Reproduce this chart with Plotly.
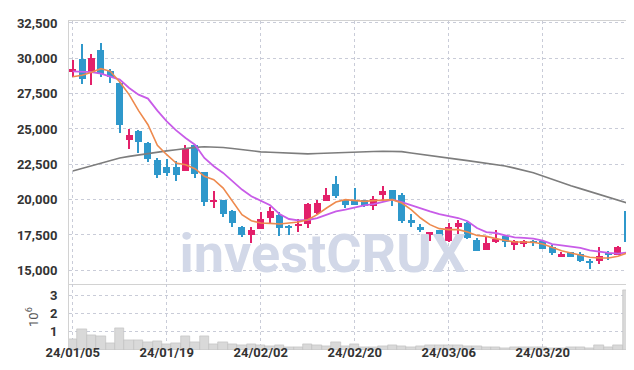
import plotly.graph_objects as go

# ---------------- data ----------------
dates = ["2024-01-05", "2024-01-08", "2024-01-09", "2024-01-10", "2024-01-11", "2024-01-12",
         "2024-01-15", "2024-01-16", "2024-01-17", "2024-01-18", "2024-01-19", "2024-01-22",
         "2024-01-23", "2024-01-24", "2024-01-25", "2024-01-26", "2024-01-29", "2024-01-30",
         "2024-01-31", "2024-02-01", "2024-02-02", "2024-02-05", "2024-02-06", "2024-02-07",
         "2024-02-08", "2024-02-13", "2024-02-14", "2024-02-15", "2024-02-16", "2024-02-19",
         "2024-02-20", "2024-02-21", "2024-02-22", "2024-02-23", "2024-02-26", "2024-02-27",
         "2024-02-28", "2024-02-29", "2024-03-04", "2024-03-05", "2024-03-06", "2024-03-07",
         "2024-03-08", "2024-03-11", "2024-03-12", "2024-03-13", "2024-03-14", "2024-03-15",
         "2024-03-18", "2024-03-19", "2024-03-20", "2024-03-21", "2024-03-22", "2024-03-25",
         "2024-03-26", "2024-03-27", "2024-03-28", "2024-03-29", "2024-04-01", "2024-04-02"]

opens = [29050, 29950, 29050, 30600, 29100, 28250, 24250, 24850, 24000, 22800,
         22300, 22300, 22050, 23850, 21950, 19900, 19950, 19200, 18100, 17500,
         17950, 18700, 18900, 18150, 18150, 18280, 19050, 19900, 21100, 19950,
         19950, 20000, 19530, 20350, 20700, 20300, 18580, 18050, 17480, 17830,
         17050, 18040, 18350, 17170, 16460, 16980, 17450, 16820, 16890, 17100,
         17050, 16650, 16010, 16300, 16150, 15680, 15640, 16250, 16110, 19220]
highs = [29850, 31000, 30300, 31100, 29220, 28300, 25000, 24950, 24100, 22950,
         22900, 22750, 23900, 23900, 21950, 20600, 19950, 19300, 18150, 18100,
         19150, 19450, 19150, 18200, 18600, 19750, 20000, 20800, 21700, 20050,
         20850, 20000, 20250, 20950, 20700, 20450, 18950, 18280, 17700, 17830,
         18350, 18580, 18420, 17290, 17400, 17880, 17450, 17170, 17170, 17170,
         17170, 16770, 16300, 16300, 16300, 15820, 16630, 16390, 16750, 19450]
lows = [28700, 28200, 28100, 28650, 28250, 24750, 23600, 23300, 22650, 21500,
        21700, 21300, 22000, 21550, 19550, 19400, 18800, 18100, 17330, 16950,
        17900, 18250, 17400, 17500, 17700, 18000, 19000, 19880, 20100, 19400,
        19600, 19450, 19300, 20000, 19530, 18350, 18050, 17700, 17100, 17170,
        17000, 17400, 17240, 16340, 16450, 16930, 16630, 16460, 16630, 16700,
        16530, 16060, 15920, 15940, 15590, 15100, 15450, 15750, 16060, 16980]
closes = [29250, 28550, 30000, 28900, 28650, 25300, 24550, 24100, 22900, 21750,
          21900, 21750, 23600, 21850, 19800, 20000, 19000, 18350, 17480, 17850,
          18650, 19200, 18000, 18000, 18250, 19700, 19750, 20300, 20250, 19600,
          19650, 19530, 20050, 20580, 20000, 18500, 18350, 17880, 17680, 17290,
          18030, 18320, 17290, 16400, 16930, 17240, 16980, 17050, 17050, 16910,
          16530, 16230, 16150, 15950, 15640, 15570, 15990, 16110, 16650, 16980]

volume_millions = [0.59, 1.14, 0.81, 0.74, 0.37, 1.20, 0.53, 0.53, 0.42, 0.48,
                   0.31, 0.37, 0.74, 0.42, 0.74, 0.31, 0.42, 0.31, 0.26, 0.31,
                   0.26, 0.20, 0.26, 0.15, 0.15, 0.31, 0.26, 0.22, 0.42, 0.22,
                   0.31, 0.15, 0.18, 0.22, 0.25, 0.22, 0.18, 0.22, 0.24, 0.25,
                   0.27, 0.25, 0.22, 0.22, 0.18, 0.15, 0.11, 0.18, 0.15, 0.18,
                   0.15, 0.11, 0.11, 0.15, 0.18, 0.11, 0.25, 0.15, 0.25, 3.28]

ma_short = [28700, 28800, 29010, 29270, 29080, 28320, 27430, 26300, 25300, 23840,
            23180, 22590, 22470, 22190, 21650, 21410, 20820, 19880, 18940, 18510,
            18350, 18320, 18280, 18350, 18420, 18580, 18940, 19410, 19830, 20000,
            19950, 19880, 19930, 19950, 20000, 19760, 19290, 18700, 18230, 17950,
            17880, 17880, 17710, 17470, 17400, 17240, 17100, 17000, 17000, 16980,
            16860, 16630, 16390, 16230, 16060, 15920, 15870, 15870, 15990, 16230]
ma_mid = [29080, 29030, 29030, 28920, 28730, 28490, 27900, 27430, 27150, 26300,
          25540, 24900, 24360, 23890, 22950, 22360, 21890, 21300, 20710, 20240,
          19930, 19600, 18980, 18630, 18540, 18560, 18700, 18940, 19170, 19290,
          19460, 19600, 19690, 19830, 20000, 19830, 19600, 19410, 19170, 18980,
          18820, 18700, 18470, 17990, 17700, 17640, 17480, 17330, 17290, 17240,
          17100, 16860, 16770, 16700, 16580, 16410, 16300, 16230, 16180, 16270]
ma_long = [22020, 22200, 22380, 22550, 22750, 22950, 23060, 23170, 23270, 23380,
           23450, 23530, 23620, 23700, 23740, 23720, 23690, 23620, 23540, 23450,
           23380, 23350, 23320, 23290, 23260, 23240, 23270, 23300, 23330, 23370,
           23390, 23400, 23410, 23420, 23420, 23400, 23300, 23200, 23100, 23010,
           22930, 22850, 22760, 22670, 22580, 22480, 22380, 22230, 22070, 21900,
           21680, 21430, 21180, 20980, 20780, 20580, 20380, 20170, 19980, 19760]

tick_positions = [0, 10, 20, 30, 40, 50]
tick_labels = ["24/01/05", "24/01/19", "24/02/02", "24/02/20", "24/03/06", "24/03/20"]
price_ticks = [15000, 17500, 20000, 22500, 25000, 27500, 30000, 32500]
volume_ticks = [1, 2, 3]

# ---------------- styling ----------------
UP = "#e3206a"
DOWN = "#2f98cb"
FONT = "Roboto, 'DejaVu Sans Condensed', sans-serif"
GRID = "#c9ccd8"
BORDER = "#d2d2d2"
WM_COLOR = "#d2d8e8"

idx = list(range(len(dates)))
colors = [UP if c >= o else DOWN for o, c in zip(opens, closes)]
body_base = [min(o, c) for o, c in zip(opens, closes)]
body_len = [max(abs(c - o), 60) for o, c in zip(opens, closes)]
wick_len = [h - l for h, l in zip(highs, lows)]

fig = go.Figure()

# volume
fig.add_trace(go.Bar(x=idx, y=volume_millions, xaxis="x2", yaxis="y2", width=1.0,
                     marker=dict(color="#d9d9d9", line=dict(color="#bdbdbd", width=0.6)),
                     hovertext=dates, showlegend=False))

# watermark (behind candles)
fig.add_trace(go.Scatter(x=[26.6], y=[15871], mode="text", text=["investCRUX"],
                         textposition="middle center", cliponaxis=False,
                         textfont=dict(family=FONT, size=54, color=WM_COLOR, weight="bold"),
                         hoverinfo="skip", showlegend=False))

# wicks
fig.add_trace(go.Bar(x=idx, y=wick_len, base=lows, width=0.15,
                     marker=dict(color=colors, line=dict(width=0)),
                     hovertext=dates, showlegend=False))
# bodies
fig.add_trace(go.Bar(x=idx, y=body_len, base=body_base, width=0.74,
                     marker=dict(color=colors, line=dict(width=0)),
                     hovertext=dates, showlegend=False))

# moving averages
fig.add_trace(go.Scatter(x=idx, y=ma_long, mode="lines", line=dict(color="#7d7d7d", width=1.6),
                         showlegend=False))
fig.add_trace(go.Scatter(x=idx, y=ma_mid, mode="lines", line=dict(color="#c85ce8", width=1.8),
                         showlegend=False))
fig.add_trace(go.Scatter(x=idx, y=ma_short, mode="lines", line=dict(color="#ee8a4e", width=1.6),
                         showlegend=False))

tickfont = dict(family=FONT, size=13, color="#333333", weight="bold")

fig.update_layout(
    width=634, height=370,
    margin=dict(l=61, r=9, t=13, b=28),
    paper_bgcolor="white", plot_bgcolor="white",
    barmode="overlay", bargap=0,
    showlegend=False,
    xaxis=dict(range=[-0.4, 59.6], anchor="y", showticklabels=False,
               tickvals=tick_positions, showgrid=True, gridcolor=GRID, griddash="dot",
               gridwidth=1, showline=True, mirror=True, linecolor=BORDER, linewidth=1,
               zeroline=False, ticks=""),
    xaxis2=dict(matches="x", anchor="y2", tickvals=tick_positions, ticktext=tick_labels,
                tickfont=tickfont, showgrid=True, gridcolor=GRID, griddash="dot",
                showline=False, zeroline=False, ticks="", ticklabelstandoff=-7),
    yaxis=dict(domain=[0.2, 1], range=[14017, 32641], tickvals=price_ticks,
               tickformat=",", tickfont=tickfont, showgrid=True, gridcolor=GRID,
               griddash="dot", showline=True, mirror=True, linecolor=BORDER,
               zeroline=False, ticks="outside", ticklen=8, tickcolor="rgba(0,0,0,0)"),
    yaxis2=dict(domain=[0, 0.2], range=[0, 3.635], tickvals=volume_ticks,
                tickfont=tickfont, showgrid=True, gridcolor=GRID, griddash="dot",
                showline=True, mirror=True, linecolor=BORDER, zeroline=False,
                ticks="outside", ticklen=8, tickcolor="rgba(0,0,0,0)",
                title=dict(text="10<sup>6</sup>", font=dict(family=FONT, size=13, color="#555555"),
                           standoff=8)),
)

fig.write_html("out.html")
